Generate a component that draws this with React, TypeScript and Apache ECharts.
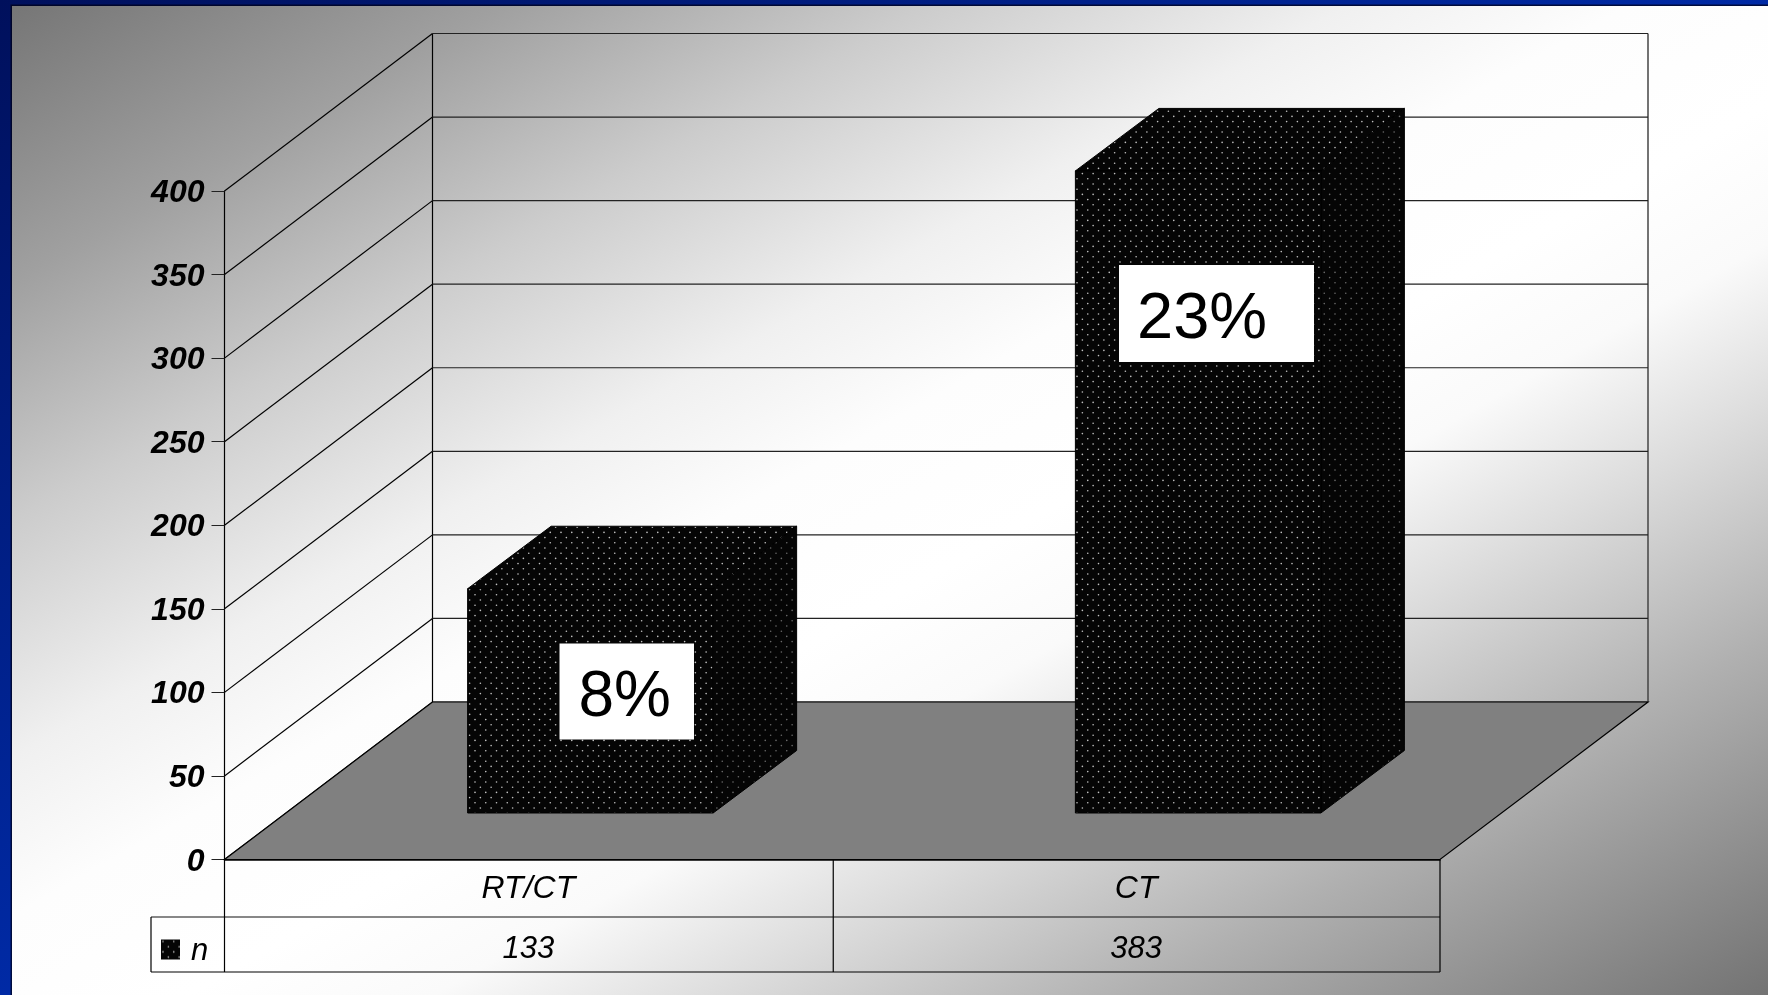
import React, { useEffect, useRef } from "react";
import * as echarts from "echarts";

const categories = ["RT/CT", "CT"];
const seriesName = "n";
const nValues = [133, 383];
const percentLabels = ["8%", "23%"];
const yTicks = [0, 50, 100, 150, 200, 250, 300, 350, 400];

const FONT = '"Liberation Sans", Arial, sans-serif';
const W = 1768;
const H = 995;
const DEPTH_X = 208;
const DEPTH_Y = 157.5;
const BAR_SHIFT_X = 62;
const BAR_FLOOR_UP = 46.5;
const BAR_WIDTH = 245.5;
const BAR_DEPTH_X = 83.5;
const BAR_DEPTH_Y = 62.5;
const ROW1 = 57.5;
const ROW2 = 112.5;
const TABLE_LEFT = 151;

function dots(alpha: number) {
  const c = document.createElement("canvas");
  c.width = 43;
  c.height = 52;
  const g = c.getContext("2d")!;
  g.fillStyle = "#050505";
  g.fillRect(0, 0, 43, 52);
  g.fillStyle = `rgba(255,255,255,${alpha})`;
  for (let r = 0; r < 10; r++) {
    for (let i = 0; i < 4; i++) {
      const x = (i + (r % 2 ? 0.5 : 0)) * 10.75 + 2;
      const y = r * 5.2 + 2;
      g.beginPath();
      g.arc(x, y, 0.8, 0, Math.PI * 2);
      g.fill();
    }
  }
  return c;
}

const line = (x1: number, y1: number, x2: number, y2: number, stroke = "#000", lineWidth = 1.2) => ({
  type: "line",
  shape: { x1, y1, x2, y2 },
  style: { stroke, lineWidth },
});

export default function App() {
  const ref = useRef<HTMLDivElement>(null);
  useEffect(() => {
    const chart = echarts.init(ref.current!, undefined, { renderer: "svg" });
    const frontPattern: any = { image: dots(0.75), repeat: "repeat" };
    const sidePattern: any = { image: dots(0.4), repeat: "repeat" };

    const option: any = {
      animation: false,
      grid: { left: 224.5, right: W - 1440, top: 191, bottom: H - 859.5 },
      legend: {
        show: true,
        left: 161,
        top: 934,
        itemWidth: 19,
        itemHeight: 20,
        padding: 0,
        selectedMode: false,
        data: [{ name: seriesName, icon: "rect", itemStyle: { color: frontPattern } }],
        textStyle: { fontFamily: FONT, fontStyle: "italic", fontSize: 31, color: "#000", padding: [0, 0, 0, 6] },
      },
      xAxis: [
        {
          type: "category",
          data: categories,
          position: "bottom",
          axisLine: { show: true, lineStyle: { color: "#000", width: 1.5 } },
          axisTick: { show: false },
          axisLabel: { margin: 11, fontFamily: FONT, fontStyle: "italic", fontSize: 32, color: "#000" },
        },
        {
          type: "category",
          data: nValues.map(String),
          position: "bottom",
          offset: 61,
          axisLine: { show: false },
          axisTick: { show: false },
          axisLabel: { margin: 11, fontFamily: FONT, fontStyle: "italic", fontSize: 31, color: "#000" },
        },
      ],
      yAxis: {
        type: "value",
        min: 0,
        max: 400,
        interval: 50,
        axisLine: { show: true, lineStyle: { color: "#000", width: 1.2 } },
        axisTick: { show: true, length: 13, lineStyle: { color: "#222" } },
        splitLine: { show: false },
        axisLabel: { margin: 20, fontFamily: FONT, fontStyle: "italic", fontWeight: "bold", fontSize: 32, color: "#000" },
      },
      graphic: [
        {
          type: "rect",
          z: -20,
          silent: true,
          shape: { x: 0, y: 0, width: W, height: H },
          style: {
            fill: {
              type: "linear", x: 0, y: 0, x2: 1, y2: 1,
              colorStops: [
                { offset: 0, color: "#00105c" },
                { offset: 0.5, color: "#002aa5" },
                { offset: 1, color: "#002aa5" },
              ],
            },
          },
        },
        { type: "rect", z: -19, silent: true, shape: { x: 10.5, y: 4.5, width: W, height: H }, style: { fill: "rgba(0,0,20,0.7)" } },
        {
          type: "rect",
          z: -18,
          silent: true,
          shape: { x: 12, y: 6, width: W - 12, height: H - 6 },
          style: {
            fill: {
              type: "linear", x: 0, y: 0, x2: 1, y2: 1,
              colorStops: [
                { offset: 0, color: "#767676" },
                { offset: 0.14, color: "#a0a0a0" },
                { offset: 0.26, color: "#cccccc" },
                { offset: 0.38, color: "#f0f0f0" },
                { offset: 0.46, color: "#fdfdfd" },
                { offset: 0.55, color: "#ffffff" },
                { offset: 0.62, color: "#fafafa" },
                { offset: 0.7, color: "#dddddd" },
                { offset: 0.82, color: "#b0b0b0" },
                { offset: 1, color: "#737373" },
              ],
            },
          },
        },
        { type: "rect", z: 20, shape: { x: 559.5, y: 643.5, width: 134.5, height: 96 }, style: { fill: "#fff" } },
        { type: "rect", z: 20, shape: { x: 1119, y: 265, width: 195, height: 97 }, style: { fill: "#fff" } },
        {
          type: "text", z: 21, x: 578.5, y: 694,
          style: { text: percentLabels[0], font: `64px ${FONT}`, fill: "#000", textVerticalAlign: "middle" },
        },
        {
          type: "text", z: 21, x: 1137, y: 315,
          style: { text: percentLabels[1], font: `65px ${FONT}`, fill: "#000", textVerticalAlign: "middle" },
        },
      ],
      series: [
        {
          name: "frame",
          type: "custom",
          coordinateSystem: "cartesian2d",
          z: 2,
          silent: true,
          legendHoverLink: false,
          data: yTicks.map((t) => [0, t]),
          encode: { x: 0, y: 1 },
          renderItem: (params: any, api: any) => {
            const cs = params.coordSys;
            const y = api.coord([0, api.value(1)])[1];
            const left = cs.x;
            const backL = left + DEPTH_X;
            const backR = left + cs.width + DEPTH_X;
            const children: any[] = [
              line(left, y, backL, y - DEPTH_Y, "#000"),
              line(backL, y - DEPTH_Y, backR, y - DEPTH_Y, "#222"),
            ];
            if (params.dataIndex === 0) {
              const bottom = cs.y + cs.height;
              const right = left + cs.width;
              const mid = left + cs.width / 2 + 1;
              children.push(
                line(backL, cs.y - DEPTH_Y, backL, bottom - DEPTH_Y, "#000"),
                line(backR, cs.y - DEPTH_Y, backR, bottom - DEPTH_Y, "#444", 1.5),
                {
                  type: "polygon",
                  shape: { points: [[left, bottom], [backL, bottom - DEPTH_Y], [backR, bottom - DEPTH_Y], [right, bottom]] },
                  style: { fill: "#808080", stroke: "#000", lineWidth: 1.2 },
                },
                line(TABLE_LEFT, bottom + ROW1, right, bottom + ROW1, "#111"),
                line(TABLE_LEFT, bottom + ROW2, right, bottom + ROW2, "#000"),
                line(TABLE_LEFT, bottom + ROW1, TABLE_LEFT, bottom + ROW2, "#000"),
                line(left, bottom, left, bottom + ROW2, "#000"),
                line(mid, bottom, mid, bottom + ROW2, "#000"),
                line(right, bottom, right, bottom + ROW2, "#000")
              );
            }
            return { type: "group", children };
          },
        },
        {
          name: seriesName,
          type: "custom",
          coordinateSystem: "cartesian2d",
          z: 3,
          silent: true,
          data: nValues.map((v, i) => [i, v]),
          encode: { x: 0, y: 1 },
          renderItem: (_params: any, api: any) => {
            const [cx, yTop] = api.coord([api.value(0), api.value(1)]);
            const [, yBase] = api.coord([api.value(0), 0]);
            const x0 = cx + BAR_SHIFT_X - BAR_WIDTH / 2;
            const x1 = x0 + BAR_WIDTH;
            const b = yBase - BAR_FLOOR_UP;
            const t = yTop - BAR_FLOOR_UP - 2;
            const dx = BAR_DEPTH_X;
            const dy = BAR_DEPTH_Y;
            return {
              type: "group",
              children: [
                {
                  type: "polygon",
                  shape: { points: [[x1, b], [x1 + dx, b - dy], [x1 + dx, t - dy], [x1, t]] },
                  style: { fill: sidePattern, stroke: "#000", lineWidth: 1 },
                },
                {
                  type: "polygon",
                  shape: { points: [[x0, t], [x0 + dx, t - dy], [x1 + dx, t - dy], [x1, t]] },
                  style: { fill: frontPattern, stroke: "#000", lineWidth: 1 },
                },
                {
                  type: "rect",
                  shape: { x: x0, y: t, width: BAR_WIDTH, height: b - t },
                  style: { fill: frontPattern, stroke: "#000", lineWidth: 1 },
                },
              ],
            };
          },
        },
      ],
    };
    chart.setOption(option);
    return () => chart.dispose();
  }, []);
  return <div ref={ref} style={{ position: "fixed", left: 0, top: 0, width: W, height: H }} />;
}
